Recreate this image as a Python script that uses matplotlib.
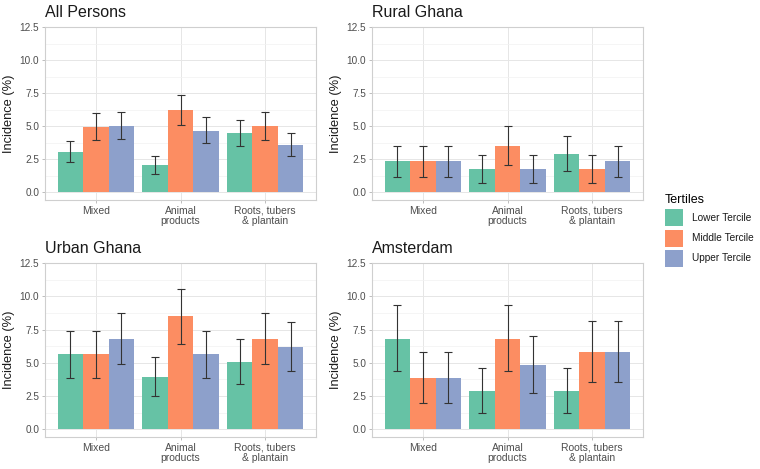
import numpy as np
import matplotlib
matplotlib.use("Agg")
import matplotlib.pyplot as plt
from matplotlib.patches import Patch
from matplotlib.ticker import MultipleLocator

plt.rcParams["font.family"] = ["Liberation Sans", "DejaVu Sans"]

# Categories and groups
categories = ["Mixed", "Animal\nproducts", "Roots, tubers\n& plantain"]
tertiles = ["Lower Tercile", "Middle Tercile", "Upper Tercile"]
colors = ["#66C2A5", "#FC8D62", "#8DA0CB"]
panels = ["All Persons", "Rural Ghana", "Urban Ghana", "Amsterdam"]

# Incidence (%) per panel: rows = tertile, cols = category
all_est = [[3.07, 2.05, 4.47], [4.95, 6.22, 5.00], [5.05, 4.67, 3.60]]
all_lo = [[2.28, 1.38, 3.48], [3.94, 5.10, 3.96], [4.04, 3.72, 2.71]]
all_hi = [[3.90, 2.76, 5.44], [6.00, 7.38, 6.05], [6.10, 5.67, 4.49]]

rural_est = [[2.34, 1.74, 2.92], [2.34, 3.54, 1.74], [2.34, 1.74, 2.34]]
rural_lo = [[1.14, 0.73, 1.63], [1.14, 2.10, 0.73], [1.14, 0.73, 1.14]]
rural_hi = [[3.52, 2.80, 4.27], [3.52, 4.98, 2.80], [3.52, 2.80, 3.52]]

urban_est = [[5.65, 3.95, 5.06], [5.65, 8.48, 6.78], [6.78, 5.65, 6.20]]
urban_lo = [[3.87, 2.48, 3.42], [3.87, 6.38, 4.89], [4.89, 3.87, 4.38]]
urban_hi = [[7.39, 5.42, 6.76], [7.39, 10.58, 8.71], [8.71, 7.39, 8.05]]

ams_est = [[6.81, 2.91, 2.91], [3.88, 6.81, 5.84], [3.88, 4.85, 5.84]]
ams_lo = [[4.36, 1.22, 1.22], [1.96, 4.36, 3.52], [1.96, 2.70, 3.52]]
ams_hi = [[9.33, 4.57, 4.57], [5.79, 9.33, 8.15], [5.79, 7.00, 8.15]]

panel_data = [
    (all_est, all_lo, all_hi),
    (rural_est, rural_lo, rural_hi),
    (urban_est, urban_lo, urban_hi),
    (ams_est, ams_lo, ams_hi),
]

W, H = 760, 469
fig = plt.figure(figsize=(W / 100, H / 100), dpi=100)

# panel boxes in pixels: left, top, right, bottom
boxes = [(45, 27, 316, 200), (372, 27, 643, 200), (45, 263, 316, 437), (372, 263, 643, 437)]

x = np.arange(len(categories))
bw = 0.3

for title, (est, lo, hi), (l, t, r, b) in zip(panels, panel_data, boxes):
    ax = fig.add_axes([l / W, 1 - b / H, (r - l) / W, (b - t) / H])
    for i, (e, lo_i, hi_i) in enumerate(zip(est, lo, hi)):
        e = np.array(e)
        xi = x + (i - 1) * bw
        ax.bar(xi, e, width=bw, color=colors[i], zorder=2)
        yerr = [e - np.array(lo_i), np.array(hi_i) - e]
        ax.errorbar(xi, e, yerr=yerr, fmt="none", ecolor="#333333",
                    elinewidth=0.8, capsize=2.6, capthick=0.8, zorder=3)
    ax.set_xlim(-0.6, 2.6)
    ax.set_ylim(-0.58, 12.5)
    ax.yaxis.set_minor_locator(MultipleLocator(1.25))
    ax.set_yticks([0, 2.5, 5.0, 7.5, 10.0, 12.5])
    ax.set_yticklabels(["0.0", "2.5", "5.0", "7.5", "10.0", "12.5"])
    ax.set_xticks(x)
    ax.set_xticklabels(categories, linespacing=1.0)
    ax.grid(which="major", color="#E6E6E6", lw=0.7, zorder=0)
    ax.grid(which="minor", axis="y", color="#F2F2F2", lw=0.5, zorder=0)
    ax.set_axisbelow(True)
    ax.tick_params(axis="both", which="major", length=2.2, width=0.6,
                   color="#B3B3B3", labelcolor="#4D4D4D", pad=2)
    ax.tick_params(axis="y", labelsize=7.2)
    ax.tick_params(axis="x", labelsize=7.5)
    ax.tick_params(which="minor", length=0)
    for s in ax.spines.values():
        s.set_color("#CFCFCF")
        s.set_linewidth(0.8)
    ax.set_ylabel("Incidence (%)", fontsize=9.3, color="#1A1A1A", labelpad=3)
    ax.set_title(title, loc="left", fontsize=11.5, color="#1A1A1A", pad=7)

handles = [Patch(facecolor=c, edgecolor="none", label=lab) for c, lab in zip(colors, tertiles)]
leg = fig.legend(handles=handles, title="Tertiles", loc="upper left",
                 bbox_to_anchor=(658 / W, 1 - 187 / H), frameon=False,
                 fontsize=7.3, title_fontsize=9, handlelength=1.78,
                 handleheight=2.2, handletextpad=0.85, labelspacing=0.32,
                 borderpad=0.2)
leg._legend_box.align = "left"
for txt in leg.get_texts():
    txt.set_color("#1A1A1A")

fig.savefig("out.png", dpi=100)
